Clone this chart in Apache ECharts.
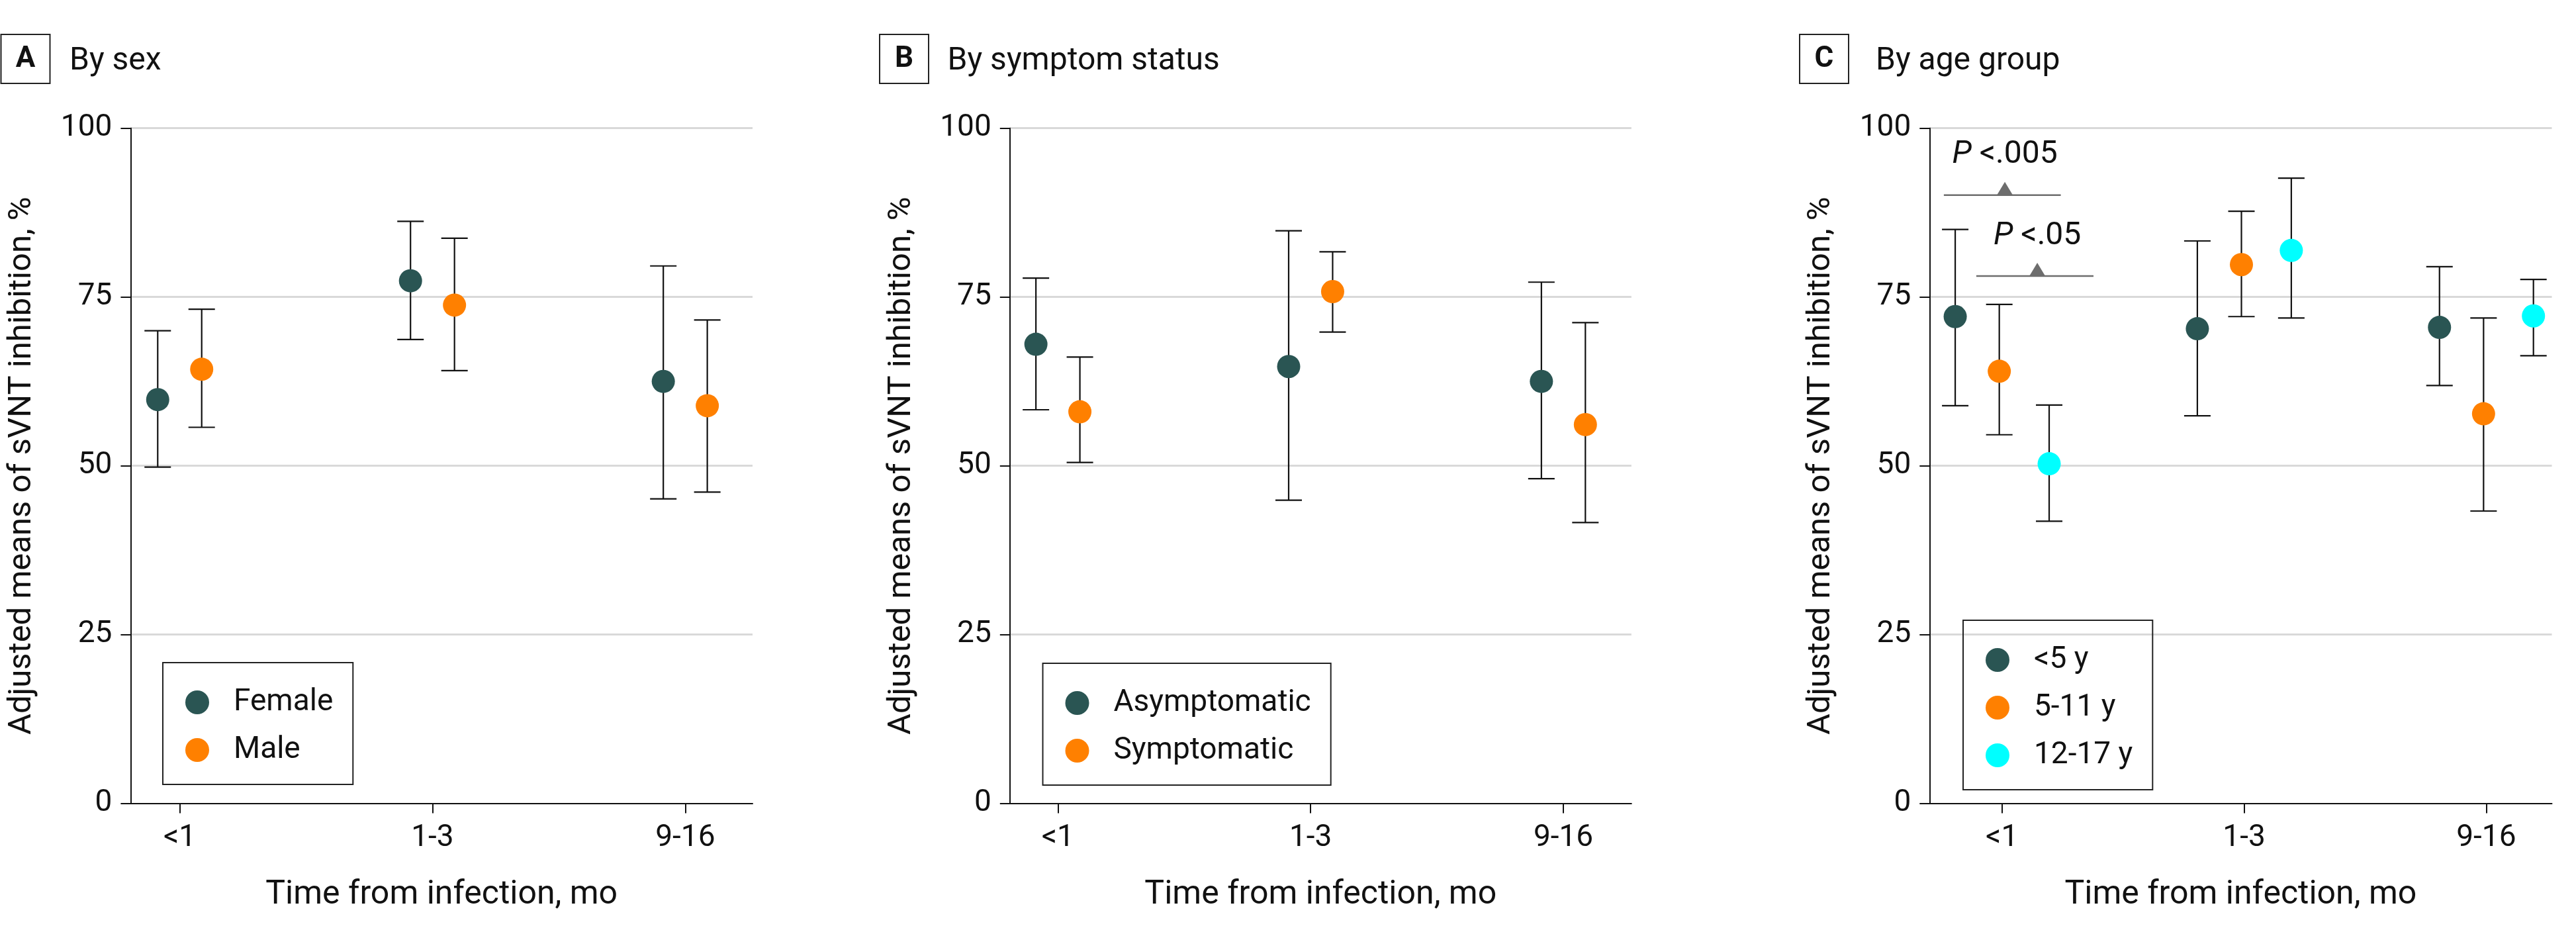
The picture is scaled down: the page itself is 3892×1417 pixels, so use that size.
<!DOCTYPE html>
<html>
<head>
<meta charset="utf-8">
<script src="https://cdn.jsdelivr.net/npm/echarts@6.0.0/dist/echarts.min.js"></script>
<style>
html,body{margin:0;padding:0;background:#fff;}
#chart{width:3892px;height:1417px;}
</style>
</head>
<body>
<div id="chart"></div>
<script>
// ---------------- DATA ----------------
const timeCategories = ['<1', '1-3', '9-16'];
const yTickValues = [0, 25, 50, 75, 100];

// Panel A: By sex
const femaleMean = [59.8, 77.4, 62.5];
const femaleLow  = [49.8, 68.7, 45.1];
const femaleHigh = [70.0, 86.2, 79.6];
const maleMean   = [64.3, 73.8, 58.9];
const maleLow    = [55.7, 64.1, 46.1];
const maleHigh   = [73.2, 83.7, 71.6];

// Panel B: By symptom status
const asymMean = [68.0, 64.7, 62.5];
const asymLow  = [58.3, 44.9, 48.1];
const asymHigh = [77.8, 84.8, 77.2];
const symMean  = [58.0, 75.8, 56.1];
const symLow   = [50.5, 69.8, 41.6];
const symHigh  = [66.1, 81.7, 71.2];

// Panel C: By age group
const under5Mean = [72.1, 70.3, 70.5];
const under5Low  = [58.9, 57.4, 61.9];
const under5High = [85.0, 83.3, 79.5];
const age5to11Mean = [64.0, 79.8, 57.7];
const age5to11Low  = [54.6, 72.1, 43.3];
const age5to11High = [73.9, 87.7, 71.9];
const age12to17Mean = [50.3, 81.9, 72.2];
const age12to17Low  = [41.8, 71.9, 66.3];
const age12to17High = [59.0, 92.6, 77.6];

// P-value annotations (panel C), in data units
const pLabels      = ['P<.005', 'P<.05'];
const pLineStart   = [0.76, 0.894];
const pLineEnd     = [1.243, 1.378];
const pLineY       = [90.1, 78.1];
const pMarkX       = [1.012, 1.146];
const pLabelY      = [96.0, 84.0];

// ---------------- STYLE / LAYOUT ----------------
const FONT = "Roboto, 'Noto Sans', sans-serif";
const INK = '#111111';
const AXIS = '#111111';
const COLORS = { teal: '#2A5553', orange: '#FF8000', cyan: '#00FFFF' };

const panels = [
  {
    letter: 'A', title: 'By sex',
    grid: { left: 197.4, top: 193.7, width: 939.6, height: 1019.9 },
    xMin: 0.806, xMax: 3.266,
    offsets: [-0.087, 0.087],
    legendPos: { left: 246, top: 1001 },
    header: { box: 1.5, text: 105 },
    groups: [
      { name: 'Female', color: COLORS.teal, mean: femaleMean, low: femaleLow, high: femaleHigh },
      { name: 'Male', color: COLORS.orange, mean: maleMean, low: maleLow, high: maleHigh }
    ]
  },
  {
    letter: 'B', title: 'By symptom status',
    grid: { left: 1525.8, top: 193.7, width: 939.0, height: 1019.9 },
    xMin: 0.81, xMax: 3.269,
    offsets: [-0.087, 0.087],
    legendPos: { left: 1575.5, top: 1002 },
    header: { box: 1329, text: 1431.6 },
    groups: [
      { name: 'Asymptomatic', color: COLORS.teal, mean: asymMean, low: asymLow, high: asymHigh },
      { name: 'Symptomatic', color: COLORS.orange, mean: symMean, low: symLow, high: symHigh }
    ]
  },
  {
    letter: 'C', title: 'By age group',
    grid: { left: 2915.3, top: 193.7, width: 940.2, height: 1019.9 },
    xMin: 0.701, xMax: 3.271,
    offsets: [-0.193, -0.011, 0.195],
    legendPos: { left: 2966, top: 937 },
    header: { box: 2719, text: 2834 },
    groups: [
      { name: '<5 y', color: COLORS.teal, mean: under5Mean, low: under5Low, high: under5High },
      { name: '5-11 y', color: COLORS.orange, mean: age5to11Mean, low: age5to11Low, high: age5to11High },
      { name: '12-17 y', color: COLORS.cyan, mean: age12to17Mean, low: age12to17Low, high: age12to17High }
    ]
  }
];

function errorBarItem(params, api) {
  const x = api.value(0);
  const pLo = api.coord([x, api.value(1)]);
  const pHi = api.coord([x, api.value(2)]);
  const hw = 20;
  const style = { stroke: AXIS, lineWidth: 2.2 };
  return {
    type: 'group',
    children: [
      { type: 'line', shape: { x1: pLo[0], y1: pLo[1], x2: pHi[0], y2: pHi[1] }, style },
      { type: 'line', shape: { x1: pLo[0] - hw, y1: pLo[1], x2: pLo[0] + hw, y2: pLo[1] }, style },
      { type: 'line', shape: { x1: pHi[0] - hw, y1: pHi[1], x2: pHi[0] + hw, y2: pHi[1] }, style }
    ]
  };
}

const grids = [], xAxes = [], yAxes = [], series = [], legends = [], graphics = [];

panels.forEach((p, gi) => {
  grids.push(Object.assign({ outerBoundsMode: 'none', containLabel: false }, p.grid));

  xAxes.push({
    gridIndex: gi, type: 'value', min: p.xMin, max: p.xMax,
    axisLine: { show: true, onZero: false, lineStyle: { color: AXIS, width: 2 } },
    axisTick: { show: true, customValues: [1, 2, 3], length: 15, lineStyle: { color: AXIS, width: 2 } },
    axisLabel: {
      customValues: [1, 2, 3],
      formatter: v => timeCategories[Math.round(v) - 1],
      fontSize: 46, fontFamily: FONT, color: INK, margin: 30
    },
    splitLine: { show: false },
    name: 'Time from infection, mo', nameLocation: 'middle', nameGap: 114,
    nameTextStyle: { fontSize: 50, fontFamily: FONT, color: INK }
  });

  yAxes.push({
    gridIndex: gi, type: 'value', min: yTickValues[0], max: yTickValues[yTickValues.length - 1], interval: 25,
    axisLine: { show: true, lineStyle: { color: AXIS, width: 2 } },
    axisTick: { show: true, length: 15, lineStyle: { color: AXIS, width: 2 } },
    axisLabel: { fontSize: 46, fontFamily: FONT, color: INK, margin: 28 },
    splitLine: { show: true, showMinLine: false, lineStyle: { color: '#d9d9d9', width: 3 } },
    name: 'Adjusted means of sVNT inhibition, %', nameLocation: 'middle', nameGap: 139, nameRotate: 90,
    nameTextStyle: { fontSize: 49, fontFamily: FONT, color: INK }
  });

  p.groups.forEach((g, k) => {
    const off = p.offsets[k];
    series.push({
      name: g.name + ' CI', type: 'custom', xAxisIndex: gi, yAxisIndex: gi,
      renderItem: errorBarItem, encode: { x: 0, y: [1, 2] }, z: 2, silent: true,
      data: g.mean.map((v, i) => [i + 1 + off, g.low[i], g.high[i]])
    });
  });
  p.groups.forEach((g, k) => {
    const off = p.offsets[k];
    series.push({
      name: g.name, type: 'scatter', xAxisIndex: gi, yAxisIndex: gi,
      symbol: 'circle', symbolSize: 35, z: 5,
      itemStyle: { color: g.color, opacity: 1 },
      data: g.mean.map((v, i) => [i + 1 + off, v])
    });
  });

  legends.push({
    orient: 'vertical', left: p.legendPos.left, top: p.legendPos.top,
    data: p.groups.map(g => ({ name: g.name, icon: 'circle' })),
    itemWidth: 36, itemHeight: 36, itemGap: 26,
    padding: [37, 30, 29, 34],
    borderColor: '#222', borderWidth: 2, borderRadius: 0,
    selectedMode: false,
    textStyle: { fontSize: 46, fontFamily: FONT, color: INK, lineHeight: 36, padding: [0, 0, 0, 32] }
  });

  graphics.push(
    { type: 'rect', shape: { x: p.header.box, y: 52, width: 74, height: 74 },
      style: { fill: 'none', stroke: '#222', lineWidth: 2 } },
    { type: 'text', x: p.header.box + 37, y: 90,
      style: { text: p.letter, font: 'bold 44px ' + FONT, fill: INK, align: 'center', verticalAlign: 'middle' } },
    { type: 'text', x: p.header.text, y: 93,
      style: { text: p.title, font: '48px ' + FONT, fill: INK, align: 'left', verticalAlign: 'middle' } }
  );
});

// P-value annotations on panel C
series.push({
  name: 'P annotations', type: 'custom', xAxisIndex: 2, yAxisIndex: 2, z: 6, silent: true,
  encode: { x: [0, 1, 3], y: [2, 4] },
  data: pLabels.map((t, i) => [pLineStart[i], pLineEnd[i], pLineY[i], pMarkX[i], pLabelY[i]]),
  renderItem: (params, api) => {
    const i = params.dataIndex;
    const a = api.coord([api.value(0), api.value(2)]);
    const b = api.coord([api.value(1), api.value(2)]);
    const m = api.coord([api.value(3), api.value(2)]);
    const t = api.coord([api.value(3), api.value(4)]);
    const label = pLabels[i];
    return {
      type: 'group',
      children: [
        { type: 'line', shape: { x1: a[0], y1: a[1], x2: b[0], y2: b[1] }, style: { stroke: '#6d6d6d', lineWidth: 2.5 } },
        { type: 'polygon', shape: { points: [[m[0] - 12, m[1]], [m[0] + 12, m[1]], [m[0], m[1] - 20]] }, style: { fill: '#6d6d6d' } },
        { type: 'text', x: t[0], y: t[1],
          style: {
            text: '{i|' + label.charAt(0) + '}{n| ' + label.slice(1) + '}',
            align: 'center', verticalAlign: 'middle',
            rich: {
              i: { fontStyle: 'italic', fontSize: 48, fontFamily: FONT, fill: INK },
              n: { fontSize: 48, fontFamily: FONT, fill: INK }
            }
          } }
      ]
    };
  }
});

const chart = echarts.init(document.getElementById('chart'), null, { renderer: 'canvas', width: 3892, height: 1417 });
chart.setOption({
  backgroundColor: '#ffffff',
  animation: false,
  grid: grids,
  xAxis: xAxes,
  yAxis: yAxes,
  legend: legends,
  graphic: graphics,
  series: series
});
</script>
</body>
</html>
